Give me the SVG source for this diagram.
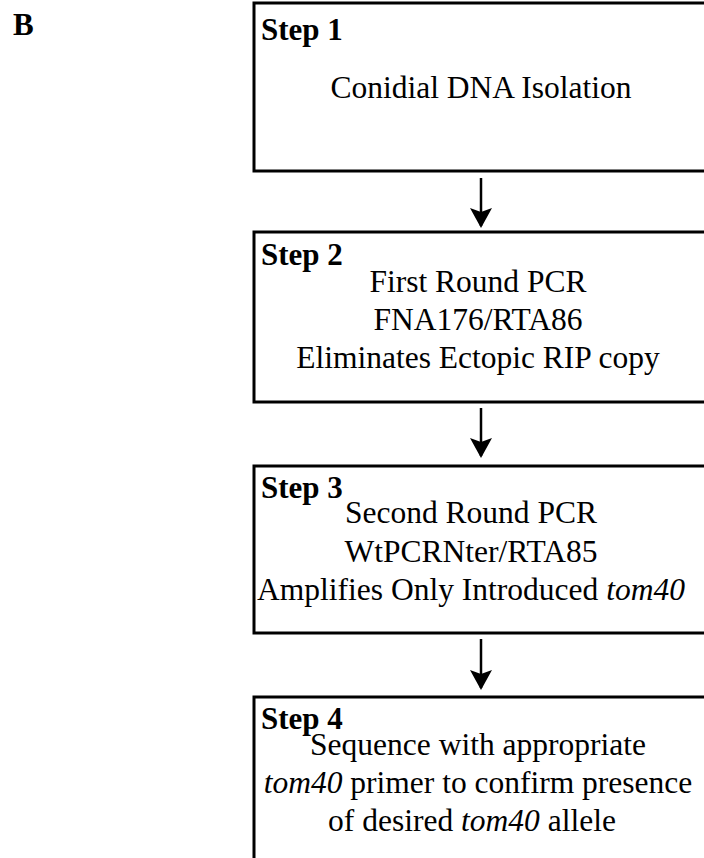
<svg xmlns="http://www.w3.org/2000/svg" width="704" height="858" viewBox="0 0 704 858">
<style>
.box{fill:#fff;stroke:#000;stroke-width:3}
.lbl{font-family:"Liberation Serif","Times New Roman",serif;font-weight:bold;font-size:31px;fill:#000}
.txt{font-family:"Liberation Serif","Times New Roman",serif;font-size:31.5px;fill:#000;text-anchor:middle}
.conn{stroke:#000;stroke-width:2.5;fill:none}
</style>
<defs>
<marker id="ah" viewBox="0 0 20 22" refX="18" refY="11" markerWidth="20" markerHeight="22" markerUnits="userSpaceOnUse" orient="auto">
<path d="M0,0 L20,11 L0,22 L4,11 Z" fill="#000"/>
</marker>
</defs>
<text class="lbl" x="13" y="35">B</text>
<g id="step1">
<rect class="box" x="254" y="3" width="460" height="168"/>
<text class="lbl" x="261" y="40">Step 1</text>
<text class="txt" x="481" y="98">Conidial DNA Isolation</text>
</g>
<g id="step2">
<rect class="box" x="254" y="232" width="460" height="170"/>
<text class="lbl" x="261" y="265">Step 2</text>
<text class="txt" x="478" y="292">First Round PCR</text>
<text class="txt" x="478" y="330">FNA176/RTA86</text>
<text class="txt" x="478" y="368">Eliminates Ectopic RIP copy</text>
</g>
<g id="step3">
<rect class="box" x="254" y="466" width="460" height="167"/>
<text class="lbl" x="261" y="498">Step 3</text>
<text class="txt" x="471" y="523">Second Round PCR</text>
<text class="txt" x="471" y="562">WtPCRNter/RTA85</text>
<text class="txt" x="471" y="600">Amplifies Only Introduced <tspan font-style="italic">tom40</tspan></text>
</g>
<g id="step4">
<rect class="box" x="254" y="697" width="460" height="180"/>
<text class="lbl" x="261" y="729">Step 4</text>
<text class="txt" x="478" y="755">Sequence with appropriate</text>
<text class="txt" x="478" y="793"><tspan font-style="italic">tom40</tspan> primer to confirm presence</text>
<text class="txt" x="472" y="831">of desired <tspan font-style="italic">tom40</tspan> allele</text>
</g>
<g id="connectors">
<line class="conn" x1="481" y1="178" x2="481" y2="226" marker-end="url(#ah)"/>
<line class="conn" x1="481" y1="408" x2="481" y2="456" marker-end="url(#ah)"/>
<line class="conn" x1="481" y1="639" x2="481" y2="688" marker-end="url(#ah)"/>
</g>
</svg>
